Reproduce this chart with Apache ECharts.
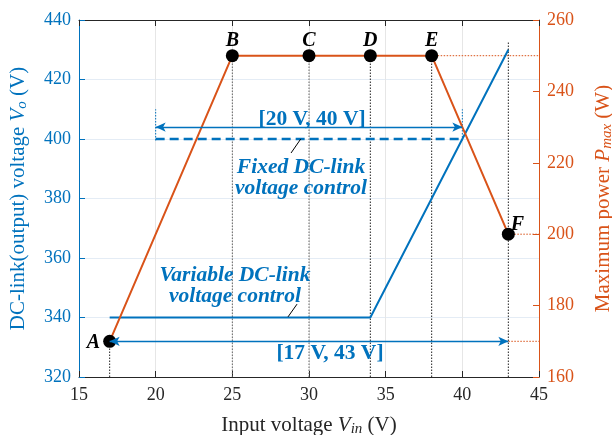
<!DOCTYPE html>
<html><head><meta charset="utf-8">
<script src="https://cdn.jsdelivr.net/npm/echarts@6/dist/echarts.min.js"></script>
<style>html,body{margin:0;padding:0;background:#fff}#c{width:612px;height:435px}</style>
</head><body><div id="c"></div>
<script>
// ---- data ----
var xTicks = [15, 20, 25, 30, 35, 40, 45];
var leftTicks = [320, 340, 360, 380, 400, 420, 440];
var rightTicks = [160, 180, 200, 220, 240, 260];
var vinVariable = [17, 34, 43];
var voVariable = [340, 340, 430];
var vinFixed = [20, 40];
var voFixed = [400, 400];
var pointNames = ['A', 'B', 'C', 'D', 'E', 'F'];
var vinPoints = [17, 25, 30, 34, 38, 43];
var pmaxPoints = [170, 250, 250, 250, 250, 200];
var rangeFixed = [20, 40];
var rangeFixedLevel = 404;
var rangeAll = [17, 43];
var rangeAllLevel = 332;

var BLUE = '#0072BD', ORANGE = '#D95319', FONT = 'Liberation Serif';

function pairs(xs, ys) { return xs.map(function (x, i) { return [x, ys[i]]; }); }

// vertical dotted guides (left-axis units) from each point to the bottom
var guideTops = [332, 428, 428, 428, 428, 432.6];

var series = [];
vinPoints.forEach(function (x, i) {
  series.push({ type: 'line', xAxisIndex: 0, yAxisIndex: 0, data: [[x, 320], [x, guideTops[i]]],
    symbol: 'none', silent: true, z: 1,
    lineStyle: { color: i === 1 || i === 2 ? '#666' : '#222', width: 1, type: [1.5, 1.5] } });
});
rangeFixed.forEach(function (x) {
  series.push({ type: 'line', data: [[x, 399.5], [x, 410]], symbol: 'none', silent: true,
    lineStyle: { color: BLUE, width: 1, type: [1.5, 1.5] } });
});
[[38, 250], [43, 200], [43, 170]].forEach(function (p) {
  series.push({ type: 'line', yAxisIndex: 1, data: [p, [45, p[1]]], symbol: 'none', silent: true,
    lineStyle: { color: ORANGE, width: 1, type: [1.5, 1.5] } });
});
series.push({ type: 'line', data: pairs(vinVariable, voVariable), symbol: 'none', z: 3,
  lineStyle: { color: BLUE, width: 2 } });
series.push({ type: 'line', data: pairs(vinFixed, voFixed), symbol: 'none', z: 3,
  lineStyle: { color: BLUE, width: 2.5, type: [9, 5] } });

var ptLabel = { show: true, position: 'top', distance: -2, fontFamily: FONT, fontSize: 20,
  fontWeight: 'bold', fontStyle: 'italic', color: '#000' };
series.push({ type: 'line', yAxisIndex: 1, z: 4,
  data: vinPoints.map(function (x, i) {
    var lab = { formatter: pointNames[i] };
    if (i === 0) { lab.position = 'left'; lab.distance = 3; lab.offset = [0, 2]; }
    if (i === 5) { lab.offset = [9, 5]; }
    return { value: [x, pmaxPoints[i]], label: lab };
  }),
  symbol: 'circle', symbolSize: 13, itemStyle: { color: '#000' },
  lineStyle: { color: ORANGE, width: 2 },
  label: ptLabel
});
series.push({ type: 'line', data: [], symbol: 'none',
  markLine: { silent: true, symbol: ['arrow', 'arrow'], symbolSize: [7, 10], label: { show: false },
    lineStyle: { color: BLUE, width: 1.3, type: 'solid' },
    data: [
      [{ coord: [rangeFixed[0], rangeFixedLevel] }, { coord: [rangeFixed[1], rangeFixedLevel] }],
      [{ coord: [rangeAll[0], rangeAllLevel] }, { coord: [rangeAll[1], rangeAllLevel] }]
    ] } });
[[[28.83, 395.3], [29.46, 400]], [[28.63, 340.2], [29.22, 344.5]]].forEach(function (l) {
  series.push({ type: 'line', data: l, symbol: 'none', silent: true, z: 5, lineStyle: { color: '#000', width: 1 } });
});

var chart = echarts.init(document.getElementById('c'), null, { renderer: 'canvas' });
function rich(color) {
  return { t: { fontFamily: FONT, fontSize: 21, color: color },
    i: { fontFamily: FONT, fontSize: 21, fontStyle: 'italic', color: color },
    s: { fontFamily: FONT, fontSize: 15, fontStyle: 'italic', color: color, padding: [9, 0, 0, 0] } };
}
chart.setOption({
  animation: false,
  textStyle: { fontFamily: FONT },
  grid: { left: 79, right: 73, top: 20, bottom: 58, containLabel: false, outerBoundsMode: 'none' },
  xAxis: [{
    type: 'value', min: 15, max: 45, interval: 5, position: 'bottom',
    axisLine: { lineStyle: { color: '#262626', width: 1 } },
    axisTick: { inside: true, length: 6, lineStyle: { color: '#262626' } },
    axisLabel: { color: '#262626', fontFamily: FONT, fontSize: 18, margin: 9 },
    splitLine: { show: true, lineStyle: { color: '#e6e6e6' } },
    name: '{t|Input voltage }{i|V}{s|in}{t| (V)}', nameLocation: 'middle', nameGap: 36,
    nameTextStyle: { rich: rich('#262626') }
  }, {
    type: 'value', min: 15, max: 45, interval: 5, position: 'top',
    axisLine: { lineStyle: { color: '#262626', width: 1 } },
    axisTick: { inside: true, length: 6, lineStyle: { color: '#262626' } },
    axisLabel: { show: false }, splitLine: { show: false }
  }],
  yAxis: [{
    type: 'value', min: 320, max: 440, interval: 20, position: 'left',
    axisLine: { show: true, lineStyle: { color: BLUE, width: 1 } },
    axisTick: { show: true, inside: true, length: 6, lineStyle: { color: BLUE } },
    axisLabel: { color: BLUE, fontFamily: FONT, fontSize: 18, margin: 8 },
    splitLine: { show: true, lineStyle: { color: '#e4ecf5' } },
    name: '{t|DC-link(output) voltage }{i|V}{s|o}{t| (V)}', nameLocation: 'middle', nameGap: 49,
    nameTextStyle: { rich: rich(BLUE) }
  }, {
    type: 'value', min: 160, max: 260, interval: 20, position: 'right',
    axisLine: { show: true, lineStyle: { color: ORANGE, width: 1 } },
    axisTick: { show: true, inside: true, length: 6, lineStyle: { color: ORANGE } },
    axisLabel: { color: ORANGE, fontFamily: FONT, fontSize: 18, margin: 8 },
    splitLine: { show: false },
    name: '{t|Maximum power }{i|P}{s|max}{t| (W)}', nameLocation: 'middle', nameGap: 52, nameRotate: 90,
    nameTextStyle: { rich: rich(ORANGE) }
  }],
  series: series
});

var notes = [
  { text: '[20 V, 40 V]', at: [30.2, 406.7], italic: false },
  { text: 'Fixed DC-link', at: [29.48, 390.6], italic: true },
  { text: 'voltage control', at: [29.48, 383.5], italic: true },
  { text: 'Variable DC-link', at: [25.17, 354.3], italic: true },
  { text: 'voltage control', at: [25.17, 347.2], italic: true },
  { text: '[17 V, 43 V]', at: [31.37, 328], italic: false }
];
chart.setOption({ graphic: notes.map(function (n) {
  var p = chart.convertToPixel({ xAxisIndex: 0, yAxisIndex: 0 }, n.at);
  return { type: 'text', x: p[0], y: p[1], z: 100,
    style: { text: n.text, fill: BLUE, font: (n.italic ? 'italic ' : '') + 'bold 21.5px "Liberation Serif"',
      align: 'center', verticalAlign: 'middle' } };
}) });
</script></body></html>
